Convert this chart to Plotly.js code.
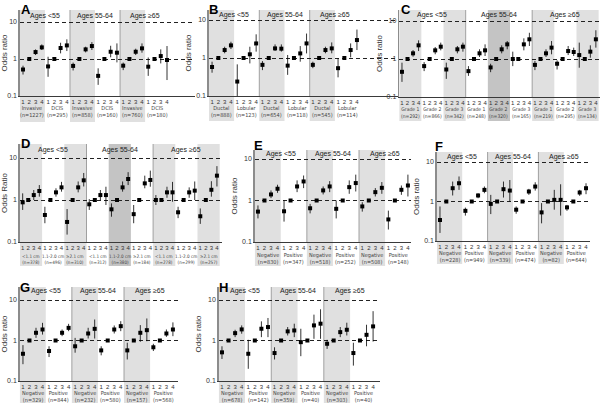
<!DOCTYPE html>
<html><head><meta charset="utf-8">
<script src="https://cdn.plot.ly/plotly-3.0.1.min.js"></script>
<style>html,body{margin:0;padding:0;background:#fff}#c{width:600px;height:403px}</style>
</head><body><div id="c"></div>
<script>
// ---------- data (odds ratio, lower CI, upper CI; quartiles 1-4 per group) ----------
const ages = ['Ages <55', 'Ages 55-64', 'Ages ≥65'];
const quartiles = ['1', '2', '3', '4'];

const A_cat = ['Invasive', 'DCIS', 'Invasive', 'DCIS', 'Invasive', 'DCIS'];
const A_n = ['1227', '295', '858', '160', '760', '180'];
const A_or = [0.52,1,1.54,2.06, 0.63,1,1.98,2.33, 0.65,1,1.82,2.24, 0.35,1,1.57,1.48, 0.66,1,1.57,1.94, 0.62,1,1.2,0.94];
const A_lo = [0.38,1,1.28,1.75, 0.33,1,1.42,1.64, 0.49,1,1.51,1.75, 0.2,1,1.11,0.81, 0.5,1,1.28,1.48, 0.35,1,0.76,0.27];
const A_hi = [0.66,1,1.82,2.48, 1.15,1,2.75,3.4, 0.8,1,2.15,2.86, 0.56,1,2.28,2.64, 0.8,1,1.9,2.64, 1.1,1,1.82,2.24];

const B_cat = ['Ductal', 'Lobular', 'Ductal', 'Lobular', 'Ductal', 'Lobular'];
const B_n = ['888', '123', '654', '118', '545', '114'];
const B_or = [0.58,1,1.62,2.15, 0.24,1,1.25,2.42, 0.66,1,1.79,1.76, 0.63,1,1.32,2.42, 0.66,1,1.62,1.79, 0.54,1,1.62,2.97];
const B_lo = [0.41,1,1.33,1.72, 0.1,1,0.72,1.47, 0.48,1,1.53,1.47, 0.36,1,0.8,1.32, 0.54,1,1.33,1.33, 0.31,1,1.04,1.62];
const B_hi = [0.8,1,1.98,2.68, 0.68,1,1.98,4.2, 0.83,1,2.28,2.28, 1.2,1,2.06,4.4, 0.8,1,1.98,2.57, 0.98,1,2.42,5.6];

const C_cat = ['Grade 1', 'Grade 2', 'Grade 3', 'Grade 1', 'Grade 2', 'Grade 3', 'Grade 1', 'Grade 2', 'Grade 3'];
const C_n = ['292', '866', '342', '248', '320', '165', '219', '295', '134'];
const C_or = [0.46,1,1.41,2.29, 0.65,1,1.69,2.11, 0.53,1,1.8,2.11, 0.48,1,1.41,1.69, 0.6,1,1.8,2.43, 1.0,1,2.43,3.3, 0.7,1,1.41,1.99, 0.75,1,1.62,1.53, 1.27,1,1.56,3.3];
const C_lo = [0.25,1,1.15,1.62, 0.48,1,1.33,1.69, 0.3,1,1.41,1.56, 0.36,1,1.13,1.2, 0.45,1,1.41,1.8, 0.65,1,1.69,2.2, 0.51,1,1.13,1.33, 0.53,1,1.27,1.2, 0.59,1,1.08,1.99];
const C_hi = [0.8,1,1.72,3.1, 0.83,1,2.07,2.7, 0.8,1,2.2,2.7, 0.65,1,1.8,2.43, 0.75,1,2.29,2.97, 1.56,1,3.5,4.9, 0.89,1,1.8,2.97, 0.92,1,2.2,1.99, 2.7,1,2.29,5.7];

const D_cat = ['<1.1 cm', '1.1-2.0 cm', '≥2.1 cm', '<1.1 cm', '1.1-2.0 cm', '≥2.1 cm', '<1.1 cm', '1.1-2.0 cm', '≥2.1 cm'];
const D_n = ['378', '496', '310', '312', '380', '184', '278', '299', '257'];
const D_or = [0.88,1,1.31,1.64, 0.44,1,1.52,2.0, 0.3,1,2.0,2.94, 0.79,1,1.31,1.31, 0.6,1,2.0,3.16, 0.46,1,2.49,3.0, 1.0,1,1.52,1.52, 0.51,1,1.52,1.67, 0.41,1,1.75,3.8];
const D_lo = [0.58,1,1.0,1.2, 0.28,1,1.2,1.58, 0.15,1,1.52,2.1, 0.58,1,1.0,0.76, 0.4,1,1.58,2.27, 0.28,1,1.9,2.07, 0.76,1,1.13,0.91, 0.37,1,1.13,1.0, 0.27,1,1.2,2.1];
const D_hi = [1.44,1,1.73,2.27, 0.69,1,1.9,2.7, 0.61,1,2.76,4.4, 1.05,1,1.73,2.07, 0.83,1,2.76,4.6, 0.76,1,3.8,5.0, 1.31,1,2.07,2.7, 0.69,1,2.0,2.76, 0.63,1,2.8,6.4];

const E_cat = ['Negative', 'Positive', 'Negative', 'Positive', 'Negative', 'Positive'];
const E_n = ['830', '347', '518', '252', '508', '148'];
const E_or = [0.54,1,1.4,1.92, 0.55,1,2.18,2.88, 0.65,1,1.75,2.18, 0.63,1,2.1,2.63, 0.72,1,1.59,2.02, 0.35,1,1.81,2.3];
const E_lo = [0.37,1,1.14,1.53, 0.31,1,1.59,1.99, 0.49,1,1.4,1.59, 0.37,1,1.45,1.65, 0.54,1,1.25,1.45, 0.2,1,1.37,1.25];
const E_hi = [0.76,1,1.75,2.4, 1.0,1,3.05,4.0, 0.83,1,2.18,2.93, 1.0,1,3.05,4.2, 0.91,1,1.99,2.78, 0.57,1,2.3,4.2];

const F_cat = ['Negative', 'Positive', 'Negative', 'Positive', 'Negative', 'Positive'];
const F_n = ['228', '949', '339', '474', '82', '644'];
const F_or = [0.34,1,2.17,2.9, 0.58,1,1.42,1.97, 0.87,1,2.05,1.89, 0.62,1,1.79,2.39, 0.53,1,1.1,1.1, 0.71,1,1.69,2.17];
const F_lo = [0.16,1,1.42,1.97, 0.44,1,1.21,1.62, 0.48,1,1.26,1.0, 0.49,1,1.47,1.89, 0.28,1,0.62,0.44, 0.58,1,1.39,1.53];
const F_hi = [0.75,1,3.2,4.3, 0.7,1,1.62,2.4, 1.47,1,3.2,3.5, 0.75,1,2.09,3.07, 0.91,1,1.97,2.73, 0.82,1,1.97,2.9];

const G_cat = ['Negative', 'Positive', 'Negative', 'Positive', 'Negative', 'Positive'];
const G_n = ['329', '844', '232', '580', '157', '568'];
const G_or = [0.47,1,1.55,1.87, 0.55,1,1.55,2.05, 0.72,1,1.49,1.94, 0.57,1,1.87,2.26, 0.57,1,1.55,1.8, 0.68,1,1.49,1.87];
const G_lo = [0.26,1,1.16,1.4, 0.39,1,1.28,1.7, 0.5,1,1.12,1.12, 0.43,1,1.49,1.7, 0.34,1,0.93,0.96, 0.55,1,1.23,1.28];
const G_hi = [0.77,1,2.06,2.73, 0.72,1,1.87,2.58, 1.16,1,2.06,3.3, 0.72,1,2.35,3.0, 0.88,1,2.4,3.5, 0.83,1,1.87,2.8];

const H_cat = ['Negative', 'Positive', 'Negative', 'Positive', 'Negative', 'Positive'];
const H_n = ['678', '142', '359', '40', '303', '40'];
const H_or = [0.51,1,1.52,1.88, 0.47,1,1.95,2.15, 0.49,1,1.68,1.77, 0.91,1,2.36,2.6, 0.83,1,1.61,1.84, 0.49,1,1.38,2.23];
const H_lo = [0.35,1,1.21,1.47, 0.2,1,1.21,1.21, 0.34,1,1.33,1.21, 0.41,1,1.1,1.1, 0.62,1,1.21,1.33, 0.24,1,0.72,0.94];
const H_hi = [0.72,1,1.84,2.36, 1.04,1,2.97,3.6, 0.68,1,2.15,2.6, 1.95,1,4.35,5.9, 1.04,1,2.15,2.75, 0.88,1,2.45,5.3];

// ---------- layout geometry (pixels) ----------
const W = 600, H = 403;
const px = x => x / W, py = y => 1 - y / H;
const FONT = 'Liberation Sans, Arial, sans-serif';
const NARROW = 'Liberation Sans Narrow, DejaVu Sans Condensed, Liberation Sans, sans-serif';
const esc = s => s.replace(/</g, '&lt;');

const panels = [
  {id:'A', L:19.9, unit:6.26, R:195, y10:22, y01:96, top:10, hdr:16, lab:112, bot:122, lf:5.5, cat:A_cat, n:A_n, or:A_or, lo:A_lo, hi:A_hi, dark:[], yt:'Odds ratio', lx:19, ly:0},
  {id:'B', L:208.9, unit:6.3, R:398, y10:20, y01:96, top:10, hdr:15, lab:112, bot:121, lf:5.5, cat:B_cat, n:B_n, or:B_or, lo:B_lo, hi:B_hi, dark:[], yt:'Odds ratio', lx:207, ly:0},
  {id:'C', L:399.2, unit:5.54, R:600, y10:21, y01:97, top:10, hdr:15, lab:113, bot:121, lf:5, cat:C_cat, n:C_n, or:C_or, lo:C_lo, hi:C_hi, dark:[4], yt:'Odds ratio', lx:399, ly:0},
  {id:'D', L:19.9, unit:5.55, R:222, y10:158, y01:242, top:144, hdr:150, lab:259, bot:266, lf:4.6, cat:D_cat, n:D_n, or:D_or, lo:D_lo, hi:D_hi, dark:[4], yt:'Odds Ratio', lx:19, ly:134},
  {id:'E', L:254.7, unit:6.52, R:411, y10:159, y01:242, top:150, hdr:154, lab:258, bot:266, lf:5.5, cat:E_cat, n:E_n, or:E_or, lo:E_lo, hi:E_hi, dark:[], yt:'Odds ratio', lx:252, ly:136},
  {id:'F', L:436.8, unit:6.35, R:590, y10:162, y01:241, top:152, hdr:157, lab:256, bot:264, lf:5.5, cat:F_cat, n:F_n, or:F_or, lo:F_lo, hi:F_hi, dark:[], yt:'Odds ratio', lx:433, ly:137},
  {id:'G', L:19.7, unit:6.52, R:178, y10:300, y01:381, top:287, hdr:291, lab:396, bot:403, lf:5.5, cat:G_cat, n:G_n, or:G_or, lo:G_lo, hi:G_hi, dark:[], yt:'Odds ratio', lx:18, ly:278},
  {id:'H', L:218.7, unit:6.57, R:380, y10:300, y01:381, top:287, hdr:291, lab:396, bot:403, lf:5.5, cat:H_cat, n:H_n, or:H_or, lo:H_lo, hi:H_hi, dark:[], yt:'Odds ratio', lx:217, ly:278}
];

const traces = [], shapes = [], annotations = [];
const layout = {
  width: W, height: H, margin: {l:0, r:0, t:0, b:0},
  paper_bgcolor: '#fff', plot_bgcolor: 'rgba(0,0,0,0)',
  showlegend: false, font: {family: FONT, color: '#333'}
};

panels.forEach((p, i) => {
  const k = i === 0 ? '' : String(i + 1);
  const xr = 'x' + k, yr = 'y' + k;
  const nPts = p.or.length, nG = nPts / 4, gpa = nG / 3;
  const dec = (p.y01 - p.y10) / 2;
  const xs = p.or.map((_, j) => j);

  layout['xaxis' + k] = {
    domain: [px(p.L), px(p.R)], range: [-0.5, -0.5 + (p.R - p.L) / p.unit],
    anchor: yr, showgrid: false, zeroline: false, showline: true, linecolor: '#3a3a3a', linewidth: 1,
    tickmode: 'array', tickvals: xs, ticktext: xs.map(j => quartiles[j % 4]),
    ticks: '', tickangle: 0, tickfont: {size: 6, color: '#333'}, fixedrange: true
  };
  layout['yaxis' + k] = {
    type: 'log', domain: [py(p.y01), py(p.top)],
    range: [-1, 1 + (p.y10 - p.top) / dec], anchor: xr,
    tickmode: 'array', tickvals: [0.1, 1, 10], ticktext: ['0.1', '1', '10'],
    showgrid: true, gridcolor: '#222', gridwidth: 1, griddash: '4px,3px',
    showline: true, linecolor: '#8c8c8c', linewidth: 1.5, ticks: '',
    tickfont: {size: 7, color: '#333'}, zeroline: false, fixedrange: true,
    title: {text: p.yt, font: {size: 8, color: '#333'}, standoff: 3}
  };

  // shaded groups
  for (let g = 0; g < nG; g += 2) {
    shapes.push({type: 'rect', xref: xr, yref: 'paper', layer: 'below',
      x0: g * 4 - 0.5, x1: g * 4 + 3.5, y0: py(p.bot), y1: py(p.top),
      fillcolor: p.dark.includes(g) ? '#c4c4c4' : '#e0e0e0', line: {width: 0}});
  }
  // age separators and headers
  for (let a = 0; a < 3; a++) {
    const x0 = a * gpa * 4 - 0.5, x1 = (a + 1) * gpa * 4 - 0.5;
    if (a > 0) shapes.push({type: 'line', xref: xr, yref: 'paper', layer: 'below',
      x0: x0, x1: x0, y0: py(p.y01), y1: py(p.top), line: {color: '#a0a0a0', width: 1}});
    annotations.push({xref: xr, yref: 'paper', x: (x0 + x1) / 2, y: py(p.hdr),
      text: esc(ages[a]), showarrow: false, font: {size: 7, color: '#222'}, yanchor: 'middle'});
  }
  // group labels
  for (let g = 0; g < nG; g++) {
    annotations.push({xref: xr, yref: 'paper', x: g * 4 + 1.5, y: py(p.lab),
      text: esc(p.cat[g]) + '<br>(n=' + p.n[g] + ')', showarrow: false,
      font: {size: p.lf, color: '#444', family: NARROW}, yanchor: 'middle'});
  }
  // panel letter
  annotations.push({xref: 'paper', yref: 'paper', x: px(p.lx), y: py(p.ly), xanchor: 'left', yanchor: 'top',
    text: '<b>' + p.id + '</b>', showarrow: false, font: {size: 13, color: '#000', family: FONT}});

  traces.push({
    type: 'scatter', mode: 'markers', x: xs, y: p.or, xaxis: xr, yaxis: yr,
    marker: {symbol: 'square', size: 4, color: '#000'},
    error_y: {type: 'data', symmetric: false,
      array: p.hi.map((v, j) => v - p.or[j]), arrayminus: p.or.map((v, j) => v - p.lo[j]),
      color: '#000', thickness: 0.8, width: 0},
    hoverinfo: 'skip', cliponaxis: false
  });
});

layout.shapes = shapes;
layout.annotations = annotations;
Plotly.newPlot('c', traces, layout, {displayModeBar: false, staticPlot: true});
</script>
</body></html>
